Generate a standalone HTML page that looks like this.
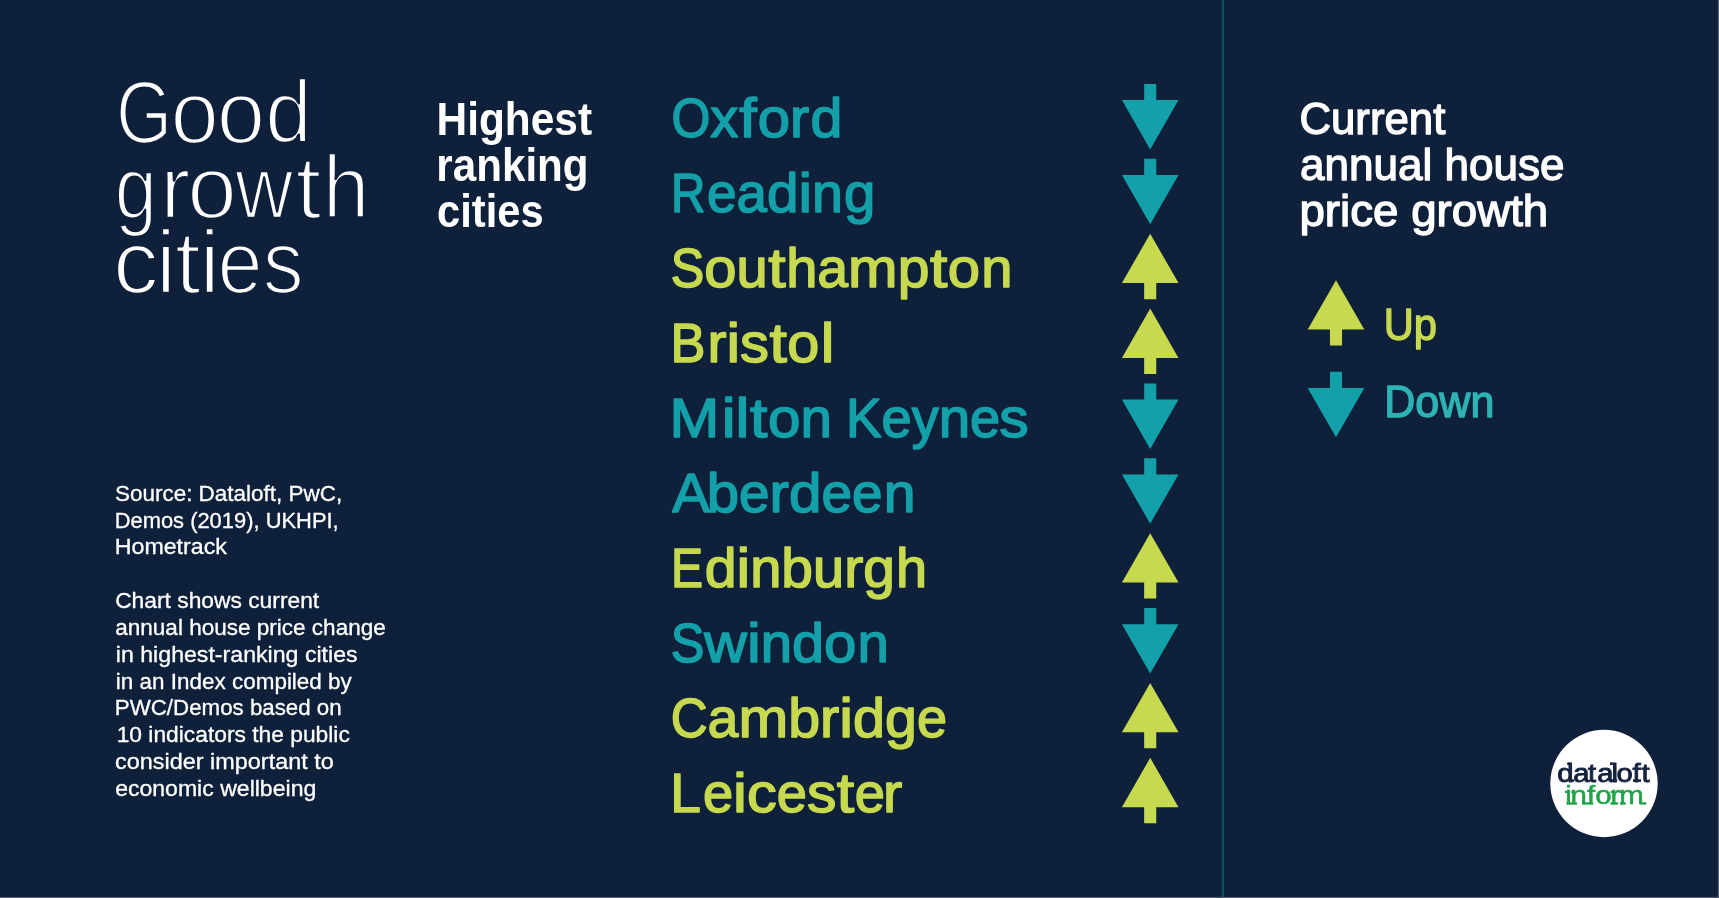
<!DOCTYPE html>
<html><head><meta charset="utf-8"><title>Good growth cities</title>
<style>html,body{margin:0;padding:0;background:#0f203b;overflow:hidden}svg{display:block;will-change:transform}text{white-space:pre}</style></head>
<body><svg width="1719" height="898" viewBox="0 0 1719 898">
<rect width="1719" height="898" fill="#0f203b"/>
<rect x="1221.8" y="0" width="2.2" height="898" fill="#0d5261"/>
<rect x="0" y="896.9" width="1719" height="1.1" fill="#4f5b71"/>
<rect x="1717.8" y="0" width="1.2" height="898" fill="#4f5b71"/>
<g font-family='"Liberation Sans", sans-serif' font-size="84" font-weight="normal" fill="#ffffff" stroke="#0f203b" stroke-width="2.4" stroke-linejoin="round"><text transform="translate(116.11,142.60) scale(0.8600,1.05)">G</text><text transform="translate(170.52,142.60) scale(1.0351,1.05)">o</text><text transform="translate(216.82,142.60) scale(1.0351,1.05)">o</text><text transform="translate(265.13,142.60) scale(0.9943,1.05)">d</text></g>
<g font-family='"Liberation Sans", sans-serif' font-size="84" font-weight="normal" fill="#ffffff" stroke="#0f203b" stroke-width="2.4" stroke-linejoin="round"><text transform="translate(114.69,218.30) scale(0.9029,1.05)">g</text><text transform="translate(160.08,218.30) scale(1.0889,1.05)">r</text><text transform="translate(187.30,218.30) scale(1.0595,1.05)">o</text><text transform="translate(235.29,218.30) scale(0.9526,1.05)">w</text><text transform="translate(295.58,218.30) scale(1.1100,1.05)">t</text><text transform="translate(322.80,218.30) scale(1.0000,1.05)">h</text></g>
<g font-family='"Liberation Sans", sans-serif' font-size="84" font-weight="normal" fill="#ffffff" stroke="#0f203b" stroke-width="2.4" stroke-linejoin="round"><text transform="translate(112.88,293.10) scale(1.0848,1.05)">c</text><text transform="translate(155.41,293.10) scale(1.1200,1.05)">i</text><text transform="translate(174.71,293.10) scale(1.1200,1.05)">t</text><text transform="translate(199.31,293.10) scale(1.1200,1.05)">i</text><text transform="translate(217.38,293.10) scale(0.9649,1.05)">e</text><text transform="translate(262.81,293.10) scale(0.9735,1.05)">s</text></g>
<text transform="translate(436.52,135.20) scale(0.9597,1.045)" font-family='"Liberation Sans", sans-serif' font-size="44.2" font-weight="bold" fill="#ffffff">Highest</text>
<text transform="translate(436.34,181.00) scale(0.9539,1.045)" font-family='"Liberation Sans", sans-serif' font-size="44.2" font-weight="bold" fill="#ffffff">ranking</text>
<text transform="translate(437.01,227.00) scale(0.9431,1.045)" font-family='"Liberation Sans", sans-serif' font-size="44.2" font-weight="bold" fill="#ffffff">cities</text>
<g font-family='"Liberation Sans", sans-serif' font-size="54" font-weight="normal" fill="#14a0a8" stroke="#14a0a8" stroke-width="1.5" stroke-linejoin="round"><text transform="translate(671.45,137.40) scale(0.9255,1.025)">O</text><text transform="translate(710.17,137.40) scale(1.0379,1.025)">x</text><text transform="translate(739.31,137.40) scale(1.1600,1.025)">f</text><text transform="translate(757.83,137.40) scale(1.0738,1.025)">o</text><text transform="translate(790.08,137.40) scale(1.0640,1.025)">r</text><text transform="translate(810.43,137.40) scale(1.0618,1.025)">d</text></g>
<g font-family='"Liberation Sans", sans-serif' font-size="54" font-weight="normal" fill="#14a0a8" stroke="#14a0a8" stroke-width="1.5" stroke-linejoin="round"><text transform="translate(671.07,212.40) scale(0.8824,1.025)">R</text><text transform="translate(707.01,212.40) scale(0.9859,1.025)">e</text><text transform="translate(736.62,212.40) scale(1.0123,1.025)">a</text><text transform="translate(767.02,212.40) scale(1.0495,1.025)">d</text><text transform="translate(798.54,212.40) scale(1.1305,1.025)">i</text><text transform="translate(812.11,212.40) scale(1.0268,1.025)">n</text><text transform="translate(844.11,212.40) scale(1.0441,1.025)">g</text></g>
<g font-family='"Liberation Sans", sans-serif' font-size="54" font-weight="normal" fill="#c6d94f" stroke="#c6d94f" stroke-width="1.5" stroke-linejoin="round"><text transform="translate(670.84,287.40) scale(0.9315,1.025)">S</text><text transform="translate(704.25,287.40) scale(1.0740,1.025)">o</text><text transform="translate(736.51,287.40) scale(1.0381,1.025)">u</text><text transform="translate(768.22,287.40) scale(1.1600,1.025)">t</text><text transform="translate(786.16,287.40) scale(1.0372,1.025)">h</text><text transform="translate(817.31,287.40) scale(1.0243,1.025)">a</text><text transform="translate(848.07,287.40) scale(1.1020,1.025)">m</text><text transform="translate(897.64,287.40) scale(1.0565,1.025)">p</text><text transform="translate(929.90,287.40) scale(1.1600,1.025)">t</text><text transform="translate(947.84,287.40) scale(1.0740,1.025)">o</text><text transform="translate(981.25,287.40) scale(1.0390,1.025)">n</text></g>
<g font-family='"Liberation Sans", sans-serif' font-size="54" font-weight="normal" fill="#c6d94f" stroke="#c6d94f" stroke-width="1.5" stroke-linejoin="round"><text transform="translate(670.62,362.40) scale(0.9698,1.025)">B</text><text transform="translate(707.43,362.40) scale(1.0558,1.025)">r</text><text transform="translate(726.41,362.40) scale(1.1349,1.025)">i</text><text transform="translate(740.03,362.40) scale(1.0715,1.025)">s</text><text transform="translate(769.42,362.40) scale(1.1600,1.025)">t</text><text transform="translate(787.29,362.40) scale(1.0654,1.025)">o</text><text transform="translate(820.69,362.40) scale(1.1349,1.025)">l</text></g>
<g font-family='"Liberation Sans", sans-serif' font-size="54" font-weight="normal" fill="#14a0a8" stroke="#14a0a8" stroke-width="1.5" stroke-linejoin="round"><text transform="translate(669.58,437.40) scale(1.1049,1.025)">M</text><text transform="translate(721.70,437.40) scale(1.1515,1.025)">i</text><text transform="translate(735.51,437.40) scale(1.1515,1.025)">l</text><text transform="translate(749.93,437.40) scale(1.1600,1.025)">t</text><text transform="translate(767.93,437.40) scale(1.0810,1.025)">o</text><text transform="translate(800.39,437.40) scale(1.0459,1.025)">n</text> <text transform="translate(845.89,437.40) scale(0.9909,1.025)">K</text><text transform="translate(881.58,437.40) scale(1.0042,1.025)">e</text><text transform="translate(911.74,437.40) scale(0.9976,1.025)">y</text><text transform="translate(938.68,437.40) scale(1.0459,1.025)">n</text><text transform="translate(970.09,437.40) scale(1.0042,1.025)">e</text><text transform="translate(999.33,437.40) scale(1.0871,1.025)">s</text></g>
<g font-family='"Liberation Sans", sans-serif' font-size="54" font-weight="normal" fill="#14a0a8" stroke="#14a0a8" stroke-width="1.5" stroke-linejoin="round"><text transform="translate(672.24,512.40) scale(1.0428,1.025)">A</text><text transform="translate(706.76,512.40) scale(1.0756,1.025)">b</text><text transform="translate(739.06,512.40) scale(1.0157,1.025)">e</text><text transform="translate(769.57,512.40) scale(1.0835,1.025)">r</text><text transform="translate(789.05,512.40) scale(1.0812,1.025)">d</text><text transform="translate(821.52,512.40) scale(1.0157,1.025)">e</text><text transform="translate(852.03,512.40) scale(1.0157,1.025)">e</text><text transform="translate(883.74,512.40) scale(1.0578,1.025)">n</text></g>
<g font-family='"Liberation Sans", sans-serif' font-size="54" font-weight="normal" fill="#c6d94f" stroke="#c6d94f" stroke-width="1.5" stroke-linejoin="round"><text transform="translate(671.04,587.40) scale(0.8907,1.025)">E</text><text transform="translate(704.68,587.40) scale(1.0600,1.025)">d</text><text transform="translate(736.52,587.40) scale(1.1418,1.025)">i</text><text transform="translate(750.21,587.40) scale(1.0370,1.025)">n</text><text transform="translate(781.36,587.40) scale(1.0545,1.025)">b</text><text transform="translate(813.03,587.40) scale(1.0361,1.025)">u</text><text transform="translate(844.14,587.40) scale(1.0622,1.025)">r</text><text transform="translate(863.24,587.40) scale(1.0545,1.025)">g</text><text transform="translate(896.05,587.40) scale(1.0352,1.025)">h</text></g>
<g font-family='"Liberation Sans", sans-serif' font-size="54" font-weight="normal" fill="#14a0a8" stroke="#14a0a8" stroke-width="1.5" stroke-linejoin="round"><text transform="translate(670.83,662.40) scale(0.9344,1.025)">S</text><text transform="translate(704.36,662.40) scale(1.0932,1.025)">w</text><text transform="translate(746.99,662.40) scale(1.1475,1.025)">i</text><text transform="translate(760.75,662.40) scale(1.0422,1.025)">n</text><text transform="translate(792.05,662.40) scale(1.0653,1.025)">d</text><text transform="translate(824.05,662.40) scale(1.0773,1.025)">o</text><text transform="translate(857.56,662.40) scale(1.0422,1.025)">n</text></g>
<g font-family='"Liberation Sans", sans-serif' font-size="54" font-weight="normal" fill="#c6d94f" stroke="#c6d94f" stroke-width="1.5" stroke-linejoin="round"><text transform="translate(670.70,737.40) scale(0.9476,1.025)">C</text><text transform="translate(707.55,737.40) scale(1.0283,1.025)">a</text><text transform="translate(738.44,737.40) scale(1.1063,1.025)">m</text><text transform="translate(788.20,737.40) scale(1.0607,1.025)">b</text><text transform="translate(820.06,737.40) scale(1.0684,1.025)">r</text><text transform="translate(839.27,737.40) scale(1.1485,1.025)">i</text><text transform="translate(853.05,737.40) scale(1.0662,1.025)">d</text><text transform="translate(885.07,737.40) scale(1.0607,1.025)">g</text><text transform="translate(916.96,737.40) scale(1.0016,1.025)">e</text></g>
<g font-family='"Liberation Sans", sans-serif' font-size="54" font-weight="normal" fill="#c6d94f" stroke="#c6d94f" stroke-width="1.5" stroke-linejoin="round"><text transform="translate(670.22,812.40) scale(1.0203,1.025)">L</text><text transform="translate(702.94,812.40) scale(1.0045,1.025)">e</text><text transform="translate(733.11,812.40) scale(1.1518,1.025)">i</text><text transform="translate(746.93,812.40) scale(1.1039,1.025)">c</text><text transform="translate(776.73,812.40) scale(1.0045,1.025)">e</text><text transform="translate(806.90,812.40) scale(1.0875,1.025)">s</text><text transform="translate(836.86,812.40) scale(1.1600,1.025)">t</text><text transform="translate(854.86,812.40) scale(1.0045,1.025)">e</text><text transform="translate(883.01,812.40) scale(1.0715,1.025)">r</text></g>
<text transform="translate(1299.38,133.80) scale(1.0182,1.025)" font-family='"Liberation Sans", sans-serif' font-size="43" font-weight="normal" fill="#ffffff" stroke="#ffffff" stroke-width="1.3" stroke-linejoin="round">Current</text>
<text transform="translate(1299.98,180.30) scale(1.0242,1.025)" font-family='"Liberation Sans", sans-serif' font-size="43" font-weight="normal" fill="#ffffff" stroke="#ffffff" stroke-width="1.3" stroke-linejoin="round">annual house</text>
<text transform="translate(1299.47,225.90) scale(1.0626,1.025)" font-family='"Liberation Sans", sans-serif' font-size="43" font-weight="normal" fill="#ffffff" stroke="#ffffff" stroke-width="1.3" stroke-linejoin="round">price growth</text>
<text transform="translate(1383.69,340.20) scale(0.9686,1.02)" font-family='"Liberation Sans", sans-serif' font-size="43" font-weight="normal" fill="#c6d94f" stroke="#c6d94f" stroke-width="1.3" stroke-linejoin="round">Up</text>
<text transform="translate(1384.30,416.90) scale(1.0010,1.02)" font-family='"Liberation Sans", sans-serif' font-size="43" font-weight="normal" fill="#2db3b3" stroke="#2db3b3" stroke-width="1.3" stroke-linejoin="round">Down</text>
<text transform="translate(114.95,500.65) scale(1.0456,1.03)" font-family='"Liberation Sans", sans-serif' font-size="21.5" font-weight="normal" fill="#ffffff" stroke="#ffffff" stroke-width="0.3" stroke-linejoin="round">Source: Dataloft, PwC,</text>
<text transform="translate(114.66,527.50) scale(1.0199,1.03)" font-family='"Liberation Sans", sans-serif' font-size="21.5" font-weight="normal" fill="#ffffff" stroke="#ffffff" stroke-width="0.3" stroke-linejoin="round">Demos (2019), UKHPI,</text>
<text transform="translate(114.74,554.34) scale(1.0794,1.03)" font-family='"Liberation Sans", sans-serif' font-size="21.5" font-weight="normal" fill="#ffffff" stroke="#ffffff" stroke-width="0.3" stroke-linejoin="round">Hometrack</text>
<text transform="translate(115.14,608.03) scale(1.0615,1.03)" font-family='"Liberation Sans", sans-serif' font-size="21.5" font-weight="normal" fill="#ffffff" stroke="#ffffff" stroke-width="0.3" stroke-linejoin="round">Chart shows current</text>
<text transform="translate(115.25,634.88) scale(1.0482,1.03)" font-family='"Liberation Sans", sans-serif' font-size="21.5" font-weight="normal" fill="#ffffff" stroke="#ffffff" stroke-width="0.3" stroke-linejoin="round">annual house price change</text>
<text transform="translate(115.82,661.72) scale(1.0767,1.03)" font-family='"Liberation Sans", sans-serif' font-size="21.5" font-weight="normal" fill="#ffffff" stroke="#ffffff" stroke-width="0.3" stroke-linejoin="round">in highest-ranking cities</text>
<text transform="translate(115.86,688.56) scale(1.0449,1.03)" font-family='"Liberation Sans", sans-serif' font-size="21.5" font-weight="normal" fill="#ffffff" stroke="#ffffff" stroke-width="0.3" stroke-linejoin="round">in an Index compiled by</text>
<text transform="translate(114.83,715.41) scale(1.0375,1.03)" font-family='"Liberation Sans", sans-serif' font-size="21.5" font-weight="normal" fill="#ffffff" stroke="#ffffff" stroke-width="0.3" stroke-linejoin="round">PWC/Demos based on</text>
<text transform="translate(116.64,742.25) scale(1.0607,1.03)" font-family='"Liberation Sans", sans-serif' font-size="21.5" font-weight="normal" fill="#ffffff" stroke="#ffffff" stroke-width="0.3" stroke-linejoin="round">10 indicators the public</text>
<text transform="translate(115.11,769.10) scale(1.0894,1.03)" font-family='"Liberation Sans", sans-serif' font-size="21.5" font-weight="normal" fill="#ffffff" stroke="#ffffff" stroke-width="0.3" stroke-linejoin="round">consider important to</text>
<text transform="translate(115.13,795.94) scale(1.0726,1.03)" font-family='"Liberation Sans", sans-serif' font-size="21.5" font-weight="normal" fill="#ffffff" stroke="#ffffff" stroke-width="0.3" stroke-linejoin="round">economic wellbeing</text>
<path fill="#14a0a8" d="M1144.15,84.00 h12.1 v16.1 h22.25 L1150.20,149.40 L1121.90,100.10 h22.25 z"/>
<path fill="#14a0a8" d="M1144.15,158.87 h12.1 v16.1 h22.25 L1150.20,224.27 L1121.90,174.97 h22.25 z"/>
<path fill="#c6d94f" d="M1150.20,233.74 L1178.50,283.04 h-22.25 v16.1 h-12.1 v-16.1 h-22.25 z"/>
<path fill="#c6d94f" d="M1150.20,308.61 L1178.50,357.91 h-22.25 v16.1 h-12.1 v-16.1 h-22.25 z"/>
<path fill="#14a0a8" d="M1144.15,383.48 h12.1 v16.1 h22.25 L1150.20,448.88 L1121.90,399.58 h22.25 z"/>
<path fill="#14a0a8" d="M1144.15,458.35 h12.1 v16.1 h22.25 L1150.20,523.75 L1121.90,474.45 h22.25 z"/>
<path fill="#c6d94f" d="M1150.20,533.22 L1178.50,582.52 h-22.25 v16.1 h-12.1 v-16.1 h-22.25 z"/>
<path fill="#14a0a8" d="M1144.15,608.09 h12.1 v16.1 h22.25 L1150.20,673.49 L1121.90,624.19 h22.25 z"/>
<path fill="#c6d94f" d="M1150.20,682.96 L1178.50,732.26 h-22.25 v16.1 h-12.1 v-16.1 h-22.25 z"/>
<path fill="#c6d94f" d="M1150.20,757.83 L1178.50,807.13 h-22.25 v16.1 h-12.1 v-16.1 h-22.25 z"/>
<path fill="#c6d94f" d="M1336.00,280.20 L1364.30,329.50 h-22.25 v16.1 h-12.1 v-16.1 h-22.25 z"/>
<path fill="#14a0a8" d="M1329.95,371.80 h12.1 v16.1 h22.25 L1336.00,437.20 L1307.70,387.90 h22.25 z"/>
<circle cx="1604" cy="783.5" r="53.7" fill="#fff"/>
<text transform="translate(0,781.6) scale(1.1,1)" x="1415.73 1430.18 1443.55 1452.00 1465.00 1469.55 1484.18 1492.36" font-family='"Liberation Sans", sans-serif' font-size="26.6" font-weight="normal" fill="#16233f" stroke="#16233f" stroke-width="0.9">dataloft</text>
<text transform="translate(0,804.4) scale(1.15,1)" x="1361.04 1365.74 1380.00 1387.13 1400.52 1408.00" font-family='"Liberation Sans", sans-serif' font-size="25.6" font-weight="normal" fill="#1fa347" stroke="#1fa347" stroke-width="0.5">inform</text>
<rect x="1567.2" y="762.4" width="2.80" height="2.60" fill="#16233f"/>
<rect x="1571" y="779.3" width="3.20" height="2.60" fill="#16233f"/>
<rect x="1610.0" y="762.4" width="3.00" height="2.60" fill="#16233f"/>
<rect x="1609.8" y="779.3" width="7.40" height="2.60" fill="#16233f"/>
<rect x="1633" y="779.3" width="8.00" height="2.60" fill="#16233f"/>
<rect x="1566.3" y="802.3" width="10.90" height="2.30" fill="#1fa347"/>
<rect x="1582.3" y="802.3" width="10.90" height="2.30" fill="#1fa347"/>
<rect x="1610.4" y="802.3" width="7.70" height="2.30" fill="#1fa347"/>
<rect x="1620.0" y="802.3" width="5.80" height="2.30" fill="#1fa347"/>
<rect x="1640.5" y="802.3" width="5.80" height="2.30" fill="#1fa347"/>
<rect x="1565.0" y="790.8" width="3.50" height="2.20" fill="#1fa347"/>
<rect x="1571.2" y="790.8" width="2.80" height="2.20" fill="#1fa347"/>
<rect x="1610.6" y="790.8" width="3.40" height="2.20" fill="#1fa347"/>
<rect x="1619.6" y="790.8" width="2.90" height="2.20" fill="#1fa347"/>

</svg></body></html>
